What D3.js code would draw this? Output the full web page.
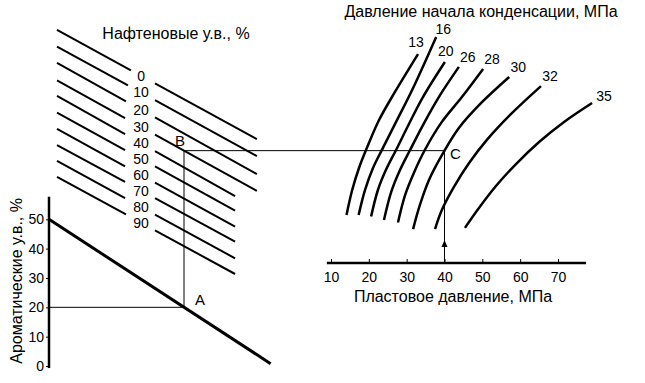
<!DOCTYPE html>
<html>
<head>
<meta charset="utf-8">
<title>Nomogram</title>
<script src="https://cdnjs.cloudflare.com/ajax/libs/d3/7.8.5/d3.min.js"></script>
<style>
  body { margin: 0; background: #fff; }
  svg { display: block; font-family: "Liberation Sans", Arial, sans-serif; }
</style>
</head>
<body>
<svg id="chart" width="645" height="383"></svg>
<script>
// aromatic hydrocarbons, %  (left axis)
var aromaticTicks = [0, 10, 20, 30, 40, 50];
// thick line: [hidden x, aromatic %]
var aromaticLine = [[0, 50], [98.5, 0.8]];

// naphthene lines: level at left start and at right end (hidden units)
var naphtheneValues = [0, 10, 20, 30, 40, 50, 60, 70, 80, 90];
var naphtheneFrom = [99.6, 92.5, 85.5, 78.0, 71.4, 64.3, 57.3, 50.4, 43.6, 36.8];
var naphtheneTo = [52.9, 45.7, 38.0, 30.8, 28.6, 22.4, 15.5, 9.1, 2.0, -4.7];
var naphtheneToX = [92.4, 92.4, 92.4, 92.4, 82.7, 82.7, 82.7, 82.7, 82.7, 82.7];
var naphtheneGapX = [36.4, 35.1, 34.2, 33.8, 33.8, 33.8, 33.8, 33.8, 33.8, 34.2];

// reservoir pressure, MPa (bottom right axis)
var pressureTicks = [10, 20, 30, 40, 50, 60, 70];

// dew point pressure curves: [reservoir pressure, hidden level]
var dewLabels = [13, 16, 20, 26, 28, 30, 32, 35];
var dewCurves = [
  [[14.1, 20.5], [15.6, 31.2], [17.4, 40.6], [19.8, 50.4], [22.7, 61.1], [26.9, 73.1], [33.0, 89.3]],
  [[17.3, 20.5], [19.0, 31.2], [21.1, 40.6], [23.7, 49.1], [27.2, 60.3], [31.7, 74.8], [37.8, 96.6]],
  [[20.6, 19.9], [22.4, 31.2], [24.5, 39.7], [27.2, 48.3], [30.6, 59.4], [34.3, 70.9], [40.1, 85.9]],
  [[24.0, 18.4], [25.9, 30.3], [28.0, 38.9], [30.9, 48.3], [34.6, 59.8], [38.5, 70.9], [43.8, 83.8]],
  [[27.7, 17.3], [29.6, 29.1], [31.9, 38.5], [34.8, 48.3], [39.3, 60.3], [44.6, 70.9], [50.2, 82.9]],
  [[31.7, 14.5], [33.5, 24.8], [35.9, 35.5], [40.0, 48.0], [43.8, 57.7], [49.7, 68.4], [57.1, 79.5]],
  [[37.5, 14.5], [39.3, 22.6], [42.5, 32.5], [46.5, 42.7], [51.2, 52.6], [57.6, 63.7], [65.5, 75.6]],
  [[45.4, 15.0], [49.1, 23.5], [53.6, 32.9], [58.9, 42.3], [65.0, 51.7], [71.6, 60.3], [79.0, 68.4]]
];

// worked example: A -> B -> C
var exampleX = 60, exampleAromatic = 20, exampleNaphthene = 30, examplePressure = 40;

var svg = d3.select('#chart');

var xL = d3.scaleLinear().domain([0, 100]).range([49, 274]);
var yA = d3.scaleLinear().domain([0, 50]).range([366, 219.3]);
var yU = d3.scaleLinear().domain([0, 100]).range([263, 29]);
var xP = d3.scaleLinear().domain([10, 70]).range([331, 558]);

var naphStartX = 3.56, naphGapEnd = 47.1, naphLabelX = 40.9;
function naphLevel(i, t) {
  return naphtheneFrom[i] + (naphtheneTo[i] - naphtheneFrom[i]) * (t - naphStartX) / (naphtheneToX[i] - naphStartX);
}

// left axis
var axisL = svg.append('g')
  .attr('transform', 'translate(' + xL(0) + ',0)')
  .call(d3.axisLeft(yA).tickValues(aromaticTicks).tickSize(3).tickPadding(2));
axisL.select('.domain').remove();
axisL.selectAll('text').attr('font-size', 14).attr('font-family', null);
svg.append('line')
  .attr('x1', xL(0)).attr('x2', xL(0))
  .attr('y1', yA(-0.7)).attr('y2', yA(57.7))
  .attr('stroke', '#000').attr('stroke-width', 2.5);

svg.append('text')
  .attr('transform', 'translate(22,' + yA(29) + ') rotate(-90)')
  .attr('text-anchor', 'middle')
  .attr('font-size', 16)
  .text('Ароматические у.в., %');

// guide lines
var bLevel = naphLevel(naphtheneValues.indexOf(exampleNaphthene), exampleX);
svg.append('line')
  .attr('x1', xL(0)).attr('x2', xL(exampleX))
  .attr('y1', yA(exampleAromatic)).attr('y2', yA(exampleAromatic))
  .attr('stroke', '#000').attr('stroke-width', 1);
svg.append('line')
  .attr('x1', xL(exampleX)).attr('x2', xL(exampleX))
  .attr('y1', yA(exampleAromatic)).attr('y2', yU(bLevel))
  .attr('stroke', '#000').attr('stroke-width', 1);
svg.append('line')
  .attr('x1', xL(exampleX)).attr('x2', xP(examplePressure))
  .attr('y1', yU(bLevel)).attr('y2', yU(bLevel))
  .attr('stroke', '#000').attr('stroke-width', 1);
svg.append('line')
  .attr('x1', xP(examplePressure)).attr('x2', xP(examplePressure))
  .attr('y1', yU(bLevel)).attr('y2', yU(0))
  .attr('stroke', '#000').attr('stroke-width', 1);
var ax = xP(examplePressure), ay = yU(0) - 23;
svg.append('path')
  .attr('d', 'M' + ax + ',' + ay + 'L' + (ax - 3) + ',' + (ay + 7) + 'L' + (ax + 3) + ',' + (ay + 7) + 'Z')
  .attr('fill', '#000');

// aromatic line
svg.append('path')
  .datum(aromaticLine)
  .attr('d', d3.line().x(function(d) { return xL(d[0]); }).y(function(d) { return yA(d[1]); }))
  .attr('stroke', '#000').attr('stroke-width', 3).attr('fill', 'none');

// naphthene lines
var naph = svg.append('g');
naphtheneValues.forEach(function(v, i) {
  [[naphStartX, naphtheneGapX[i]], [naphGapEnd, naphtheneToX[i]]].forEach(function(seg) {
    naph.append('line')
      .attr('x1', xL(seg[0])).attr('y1', yU(naphLevel(i, seg[0])))
      .attr('x2', xL(seg[1])).attr('y2', yU(naphLevel(i, seg[1])))
      .attr('stroke', '#000').attr('stroke-width', 2);
  });
  naph.append('text')
    .attr('x', xL(naphLabelX)).attr('y', yU(naphLevel(i, naphLabelX)))
    .attr('dy', '0.35em')
    .attr('text-anchor', 'middle')
    .attr('font-size', 14)
    .text(v);
});

svg.append('text')
  .attr('x', 176).attr('y', 39)
  .attr('text-anchor', 'middle')
  .attr('font-size', 16)
  .text('Нафтеновые у.в., %');

// bottom right axis
var axisB = svg.append('g')
  .attr('transform', 'translate(0,' + yU(0) + ')')
  .call(d3.axisBottom(xP).tickValues(pressureTicks).tickSizeInner(-4).tickSizeOuter(0).tickPadding(9));
axisB.select('.domain').remove();
axisB.selectAll('text').attr('font-size', 14).attr('font-family', null);
svg.append('line')
  .attr('x1', xP(8.9)).attr('x2', xP(77.4))
  .attr('y1', yU(0)).attr('y2', yU(0))
  .attr('stroke', '#000').attr('stroke-width', 2.5);

svg.append('text')
  .attr('x', 453).attr('y', 302)
  .attr('text-anchor', 'middle')
  .attr('font-size', 16)
  .text('Пластовое давление, МПа');

// dew point curves
var curveLine = d3.line()
  .x(function(d) { return xP(d[0]); })
  .y(function(d) { return yU(d[1]); })
  .curve(d3.curveCatmullRom);
var nudge = { 13: [-2, -12], 16: [7, -8], 20: [1, -11], 35: [12, -7] };
dewCurves.forEach(function(pts, i) {
  svg.append('path')
    .datum(pts)
    .attr('d', curveLine)
    .attr('stroke', '#000').attr('stroke-width', 2.5).attr('fill', 'none');
  var top = pts[pts.length - 1];
  var off = nudge[dewLabels[i]] || [9, -10];
  svg.append('text')
    .attr('x', xP(top[0]) + off[0]).attr('y', yU(top[1]) + off[1])
    .attr('dy', '0.35em')
    .attr('text-anchor', 'middle')
    .attr('font-size', 14)
    .text(dewLabels[i]);
});

svg.append('text')
  .attr('x', 481).attr('y', 17)
  .attr('text-anchor', 'middle')
  .attr('font-size', 16)
  .text('Давление начала конденсации, МПа');

// point labels
svg.append('text').attr('x', xL(exampleX) + 16).attr('y', yA(exampleAromatic) - 8)
  .attr('dy', '0.35em').attr('text-anchor', 'middle').attr('font-size', 15).text('A');
svg.append('text').attr('x', xL(exampleX) - 4).attr('y', yU(bLevel) - 10)
  .attr('dy', '0.35em').attr('text-anchor', 'middle').attr('font-size', 15).text('B');
svg.append('text').attr('x', xP(examplePressure) + 11).attr('y', yU(bLevel) + 3)
  .attr('dy', '0.35em').attr('text-anchor', 'middle').attr('font-size', 15).text('C');
</script>
</body>
</html>
